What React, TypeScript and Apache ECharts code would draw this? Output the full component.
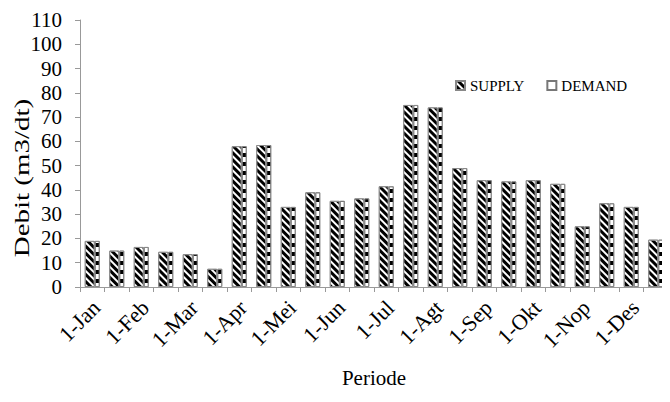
import React, { useEffect, useRef } from "react";
import * as echarts from "echarts";

const categories = [
  "1-Jan", "16-Jan", "1-Feb", "16-Feb", "1-Mar", "16-Mar", "1-Apr", "16-Apr",
  "1-Mei", "16-Mei", "1-Jun", "16-Jun", "1-Jul", "16-Jul", "1-Agt", "16-Agt",
  "1-Sep", "16-Sep", "1-Okt", "16-Okt", "1-Nop", "16-Nop", "1-Des", "16-Des",
];
const supply = [19, 15, 16.5, 14.5, 13.5, 7.5, 58, 58.5, 33, 39, 35.5, 36.5, 41.5, 75, 74, 49, 44, 43.5, 44, 42.5, 25, 34.5, 33, 19.5];
const demand = [19, 15, 16.5, 14.5, 13.5, 7.5, 58, 58.5, 33, 39, 35.5, 36.5, 41.5, 75, 74, 49, 44, 43.5, 44, 42.5, 25, 34.5, 33, 19.5];
const yTicks = { min: 0, max: 110, interval: 10 };
const yTitle = "Debit (m3/dt)";
const xTitle = "Periode";

const FONT = "Liberation Serif";

export default function App() {
  const ref = useRef<HTMLDivElement>(null);
  useEffect(() => {
    const chart = echarts.init(ref.current!, undefined, { renderer: "svg" });
    chart.setOption({
      animation: false,
      backgroundColor: "#fff",
      textStyle: { fontFamily: FONT, color: "#000" },
      grid: { left: 80, right: 2, top: 20, bottom: 115, containLabel: false },
      legend: {
        data: ["SUPPLY", "DEMAND"],
        left: 450,
        top: 73,
        itemWidth: 9,
        itemHeight: 9,
        itemGap: 22,
        icon: "rect",
        textStyle: { fontFamily: FONT, fontSize: 15, color: "#000" },
      },
      xAxis: {
        type: "category",
        data: categories,
        name: xTitle,
        nameLocation: "middle",
        nameGap: 80,
        nameTextStyle: { fontFamily: FONT, fontSize: 21, color: "#000" },
        axisLine: { lineStyle: { color: "#999" } },
        axisTick: { show: true, length: 5, lineStyle: { color: "#999" }, interval: 0 },
        axisLabel: { show: false },
      },
      yAxis: {
        type: "value",
        min: yTicks.min,
        max: yTicks.max,
        interval: yTicks.interval,
        axisLine: { show: true, lineStyle: { color: "#999" } },
        axisTick: { show: true, length: 5, lineStyle: { color: "#999" } },
        splitLine: { show: false },
        axisLabel: { fontFamily: FONT, fontSize: 21, color: "#000", margin: 18 },
      },
      series: [
        {
          name: "SUPPLY",
          type: "bar",
          data: supply,
          barWidth: 10,
          barGap: "0%",
          itemStyle: {
            color: "#000",
            borderColor: "#888",
            borderWidth: 1,
            decal: {
              symbol: "rect",
              symbolSize: 1,
              color: "#fff",
              backgroundColor: "#000",
              dashArrayX: [10, 0],
              dashArrayY: [2, 3],
              rotation: Math.PI / 4,
            },
          },
        },
        {
          name: "DEMAND_BAR",
          type: "bar",
          data: demand,
          barWidth: 5,
          itemStyle: {
            color: "#fff",
            borderColor: "#888",
            borderWidth: 1,
            decal: {
              symbol: "rect",
              symbolSize: 1,
              color: "#000",
              backgroundColor: "#fff",
              dashArrayX: [10, 0],
              dashArrayY: [4, 5],
              rotation: 0,
            },
          },
        },
        {
          name: "DEMAND",
          type: "scatter",
          data: [],
          itemStyle: { color: "#fff", borderColor: "#555", borderWidth: 1 },
        },
      ],
    });

    const y0 = chart.convertToPixel({ yAxisIndex: 0 }, 0) as number;
    const elements: any[] = [
      {
        id: "ytitle",
        type: "text",
        x: 22,
        y: 178,
        rotation: Math.PI / 2,
        scaleX: 1.45,
        style: {
          text: yTitle,
          fontFamily: FONT,
          fontSize: 20,
          fill: "#000",
          align: "center",
          verticalAlign: "middle",
        },
      },
    ];
    categories.forEach((c, i) => {
      if (i % 2 !== 0) return;
      const x = chart.convertToPixel({ xAxisIndex: 0 }, i) as number;
      elements.push({
        id: "xl" + i,
        type: "text",
        x: x + 4,
        y: y0 + 17,
        rotation: Math.PI / 4,
        style: {
          text: c,
          fontFamily: FONT,
          fontSize: 22,
          fill: "#000",
          align: "right",
          verticalAlign: "middle",
        },
      });
    });
    chart.setOption({ graphic: elements });
    return () => chart.dispose();
  }, []);
  return <div ref={ref} style={{ width: 670, height: 402, margin: -8 }} />;
}
